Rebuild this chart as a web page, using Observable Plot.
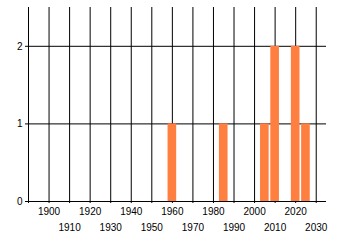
<!DOCTYPE html>
<html>
<head>
<meta charset="utf-8">
<script src="https://cdn.jsdelivr.net/npm/d3@7"></script>
<script src="https://cdn.jsdelivr.net/npm/@observablehq/plot@0.6"></script>
<style>
  html, body { margin: 0; padding: 0; background: #fff; }
  #chart svg { display: block; }
</style>
</head>
<body>
<div id="chart"></div>
<script>
// Data
const years = [1960, 1985, 2005, 2010, 2020, 2025];
const counts = [1, 1, 1, 2, 2, 1];
// Tick labels / grid
const gridYears = [1890, 1900, 1910, 1920, 1930, 1940, 1950, 1960, 1970, 1980, 1990, 2000, 2010, 2020, 2030];
const labelRowOne = [1900, 1920, 1940, 1960, 1980, 2000, 2020];
const labelRowTwo = [1910, 1930, 1950, 1970, 1990, 2010, 2030];
const yTicks = [0, 1, 2];

const data = years.map((y, i) => ({year: y, count: counts[i]}));
const halfWidth = 2.1;

const chart = Plot.plot({
  width: 340,
  height: 245,
  marginLeft: 28,
  marginRight: 14,
  marginTop: 7,
  marginBottom: 44,
  style: {fontFamily: "'Liberation Sans', Arial, sans-serif", fontSize: "10px", color: "#000", background: "#fff"},
  x: {domain: [1890, 2035], axis: null, label: null},
  y: {domain: [0, 2.5], axis: null, label: null},
  marks: [
    Plot.ruleX(gridYears, {x: d => d, stroke: "#000", strokeWidth: 1, insetBottom: -2}),
    Plot.ruleY(yTicks, {y: d => d, stroke: "#000", strokeWidth: 1, insetLeft: -3}),
    Plot.rectY(data, {x1: d => d.year - halfWidth, x2: d => d.year + halfWidth, y1: 0, y2: "count", fill: "#ff7f40"}),
    Plot.axisX(labelRowOne, {tickSize: 0, tickPadding: 6.5, tickFormat: d => String(d), fontSize: 10, label: null}),
    Plot.axisX(labelRowTwo, {tickSize: 0, tickPadding: 22, tickFormat: d => String(d), fontSize: 10, label: null}),
    Plot.axisY(yTicks, {tickSize: 0, tickPadding: 6, tickFormat: d => String(d), fontSize: 10, label: null})
  ]
});
document.getElementById("chart").appendChild(chart);
</script>
</body>
</html>
